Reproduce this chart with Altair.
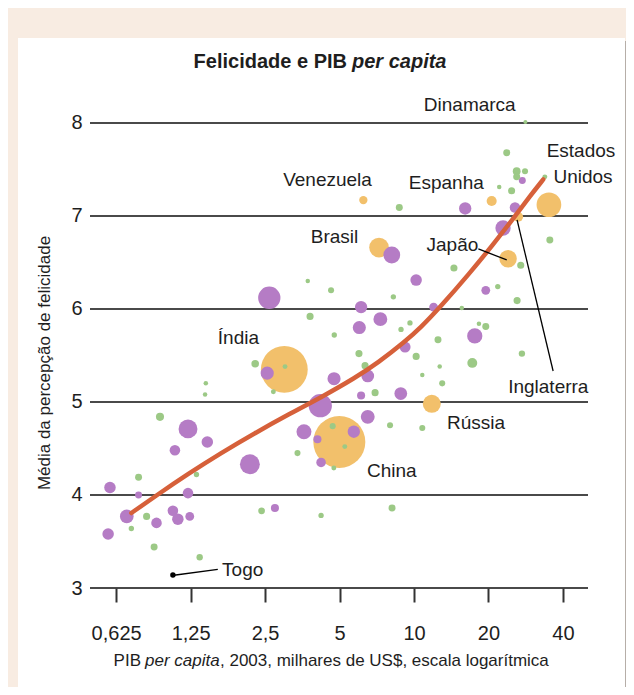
import altair as alt
import pandas as pd

# ---------------- data ----------------
X_TICKS = [0.625, 1.25, 2.5, 5, 10, 20, 40]
X_TICK_LABELS = ["0,625", "1,25", "2,5", "5", "10", "20", "40"]
Y_TICKS = [3, 4, 5, 6, 7, 8]

# orange: highlighted countries (GDP per capita, thousands US$; happiness; population, millions)
ORANGE_GDP = [2.99, 4.99, 35.1, 7.22, 24.0, 11.8, 6.24, 20.6, 26.4]
ORANGE_HAPPY = [5.35, 4.57, 7.12, 6.66, 6.54, 4.98, 7.17, 7.16, 6.99]
ORANGE_POP = [1080, 1330, 300, 190, 150, 160, 34, 50, 45]

PURPLE_GDP = [1.22, 1.46, 1.08, 2.17, 0.77, 0.59, 1.22, 0.69, 1.06, 1.11, 1.24, 0.91, 0.58, 2.74,
              2.55, 4.18, 4.75, 6.50, 9.2, 6.11, 8.84, 3.59, 6.50, 5.71, 4.07, 4.21, 2.60, 6.11,
              7.31, 6.01, 8.13, 10.2, 12.0, 16.1, 25.6, 22.9, 19.5, 17.6, 27.4]
PURPLE_HAPPY = [4.71, 4.57, 4.48, 4.33, 4.00, 4.08, 4.02, 3.77, 3.83, 3.74, 3.77, 3.70, 3.58, 3.86,
                5.31, 4.96, 5.25, 5.28, 5.59, 5.07, 5.09, 4.68, 4.84, 4.68, 4.60, 4.35, 6.12, 6.02,
                5.89, 5.80, 6.58, 6.31, 6.02, 7.08, 7.09, 6.87, 6.20, 5.71, 7.38]
PURPLE_POP = [175, 65, 55, 195, 24, 65, 55, 92, 55, 65, 38, 55, 65, 32,
              85, 265, 85, 80, 60, 32, 80, 110, 95, 75, 32, 45, 245, 75,
              95, 85, 140, 65, 38, 75, 55, 115, 38, 115, 24]

GREEN_GDP = [2.28, 1.44, 1.43, 0.94, 1.32, 0.77, 0.83, 0.72, 0.89, 1.36, 3.01, 2.70, 5.99, 6.34,
             10.2, 10.8, 6.96, 4.69, 5.25, 4.74, 3.38, 8.0, 10.8, 2.42, 4.21, 8.15, 27.3, 17.2,
             12.7, 13.0, 28.2, 23.7, 26.0, 26.0, 28.1, 22.1, 24.8, 33.8, 8.72, 35.4, 27.0, 14.5,
             21.8, 26.1, 15.6, 18.3, 19.5, 12.5, 3.72, 4.62, 8.25, 3.80, 4.76, 8.86, 9.63]
GREEN_HAPPY = [5.41, 5.20, 5.08, 4.84, 4.22, 4.19, 3.77, 3.64, 3.44, 3.33, 5.38, 5.11, 5.52, 5.39,
               5.49, 5.29, 5.10, 4.74, 4.52, 4.29, 4.45, 4.75, 4.72, 3.83, 3.78, 3.86, 5.52, 5.42,
               5.38, 5.20, 8.01, 7.68, 7.48, 7.42, 7.48, 7.31, 7.27, 7.42, 7.09, 6.74, 6.47, 6.44,
               6.24, 6.09, 6.01, 5.84, 5.81, 5.67, 6.30, 6.20, 6.13, 5.92, 5.72, 5.78, 5.85]
GREEN_POP = [28, 10, 10, 32, 14, 24, 25, 14, 24, 20, 12, 12, 25, 25,
             25, 10, 25, 18, 12, 12, 18, 18, 18, 22, 14, 24, 20, 48,
             10, 18, 8, 24, 30, 24, 18, 10, 25, 12, 24, 24, 25, 25,
             14, 25, 10, 10, 24, 24, 10, 18, 14, 25, 14, 14, 14]

TREND_GDP = [0.72, 0.896, 1.22, 1.66, 2.28, 3.11, 4.24, 5.78, 7.17, 9.2, 10.6, 12.7, 16.8, 20.9,
             25.2, 29.4, 33.3]
TREND_HAPPY = [3.806, 3.984, 4.226, 4.452, 4.667, 4.866, 5.054, 5.259, 5.423, 5.649, 5.795, 6.014,
               6.385, 6.694, 6.973, 7.211, 7.392]

TOGO_GDP = [1.06]
TOGO_HAPPY = [3.14]

LABEL_TEXT = ["Dinamarca", "Estados", "Unidos", "Venezuela", "Espanha", "Brasil", "Japão", "Índia",
              "Inglaterra", "Rússia", "China", "Togo"]
LABEL_GDP = [16.8, 47.3, 48.2, 4.47, 13.5, 4.77, 14.3, 1.95, 34.9, 17.8, 8.13, 2.03]
LABEL_HAPPY = [8.19, 7.70, 7.42, 7.39, 7.35, 6.77, 6.69, 5.69, 5.16, 4.77, 4.26, 3.19]

LEADER_GDP1 = [18.2, 26.1, 1.07]
LEADER_HAPPY1 = [6.645, 6.957, 3.137]
LEADER_GDP2 = [23.7, 36.5, 1.61]
LEADER_HAPPY2 = [6.527, 5.333, 3.20]

# ---------------- build ----------------
FONT = "Liberation Sans"
TXT = "#1e1e1e"
W, H = 498, 493

bubbles = pd.concat([
    pd.DataFrame({"gdp": ORANGE_GDP, "happy": ORANGE_HAPPY, "pop": ORANGE_POP, "grp": "o"}),
    pd.DataFrame({"gdp": PURPLE_GDP, "happy": PURPLE_HAPPY, "pop": PURPLE_POP, "grp": "p"}),
    pd.DataFrame({"gdp": GREEN_GDP, "happy": GREEN_HAPPY, "pop": GREEN_POP, "grp": "g"}),
], ignore_index=True)
bubbles["ord"] = range(len(bubbles))

xscale = alt.Scale(type="log", base=2, domain=[0.49, 50.5], nice=False)
yscale = alt.Scale(domain=[3, 8.3], nice=False, zero=False)

label_expr = " : ".join(
    f"datum.value == {v} ? '{t}'" for v, t in zip(X_TICKS, X_TICK_LABELS)
) + " : ''"

xaxis = alt.Axis(values=X_TICKS, labelExpr=label_expr, grid=False, domain=False, ticks=True,
                 tickSize=14, tickWidth=2, tickColor="#333333", labelFontSize=20, labelFont=FONT,
                 labelColor=TXT, labelPadding=21, title=None, zindex=1, labelFlush=False,
                 labelOverlap=False)
yaxis = alt.Axis(values=Y_TICKS, grid=False, domain=False, ticks=False, labelFontSize=20,
                 labelFont=FONT, labelColor=TXT, labelPadding=8, title=None, zindex=1, format="d")

X = lambda f: alt.X(f, scale=xscale, axis=xaxis)
Y = lambda f: alt.Y(f, scale=yscale, axis=yaxis)

one = pd.DataFrame({"a": [0]})

shadow = alt.Chart(one).mark_rect(color="#9a9490", opacity=0.7).encode(
    x=alt.value(-69), x2=alt.value(541), y=alt.value(-54), y2=alt.value(610))
card = alt.Chart(one).mark_rect(color="white").encode(
    x=alt.value(-72), x2=alt.value(535), y=alt.value(-57), y2=alt.value(605))

grid = alt.Chart(pd.DataFrame({"v": Y_TICKS})).mark_rule(color="#4a4a4a", strokeWidth=2).encode(
    y=Y("v:Q"), x=alt.value(0), x2=alt.value(W))

points = alt.Chart(bubbles).mark_circle(opacity=1).encode(
    x=X("gdp:Q"),
    y=Y("happy:Q"),
    size=alt.Size("pop:Q", scale=alt.Scale(domain=[0, 1300], range=[0, 2642]), legend=None),
    color=alt.Color("grp:N", scale=alt.Scale(domain=["o", "p", "g"],
                                             range=["#f2c06b", "#b57cc5", "#9cc986"]), legend=None),
    order=alt.Order("ord:Q"),
)

trend = alt.Chart(pd.DataFrame({"gdp": TREND_GDP, "happy": TREND_HAPPY})).mark_line(
    color="#d6603a", strokeWidth=4.5, interpolate="basis", strokeCap="round").encode(
    x=X("gdp:Q"), y=Y("happy:Q"))

togo = alt.Chart(pd.DataFrame({"gdp": TOGO_GDP, "happy": TOGO_HAPPY})).mark_circle(
    color="black", opacity=1, size=30).encode(x=X("gdp:Q"), y=Y("happy:Q"))

leaders = alt.Chart(pd.DataFrame({"x1": LEADER_GDP1, "y1": LEADER_HAPPY1,
                                  "x2": LEADER_GDP2, "y2": LEADER_HAPPY2})).mark_rule(
    color="black", strokeWidth=1.3).encode(
    x=X("x1:Q"), x2="x2:Q", y=Y("y1:Q"), y2="y2:Q")

labels = alt.Chart(pd.DataFrame({"t": LABEL_TEXT, "gdp": LABEL_GDP, "happy": LABEL_HAPPY})).mark_text(
    font=FONT, fontSize=19, color=TXT, align="center", baseline="middle").encode(
    x=X("gdp:Q"), y=Y("happy:Q"), text="t:N")

def txt(s, x, y, size, align="left", weight="normal", style="normal", angle=0):
    return alt.Chart(one).mark_text(font=FONT, fontSize=size, color=TXT, align=align,
                                    baseline="middle", fontWeight=weight, fontStyle=style,
                                    angle=angle).encode(
        x=alt.value(x), y=alt.value(y), text=alt.value(s))

title1 = txt("Felicidade e PIB", 257, -33, 20, align="right", weight="bold")
title2 = txt("per capita", 262, -33, 20, align="left", weight="bold", style="italic")
xt1 = txt("PIB", 51, 566, 17, align="right")
xt2 = txt("per capita", 55, 566, 17, align="left", style="italic")
xt3 = txt(", 2003, milhares de US$, escala logarítmica", 130, 566, 17, align="left")
yt = txt("Média da percepção de felicidade", -45, 268, 17, align="center", angle=270)

chart = alt.layer(shadow, card, grid, points, trend, togo, leaders, labels,
                  title1, title2, xt1, xt2, xt3, yt).properties(
    width=W, height=H,
    background="#f8ece2",
    padding={"left": 82, "top": 87, "right": 38, "bottom": 99},
    autosize=alt.AutoSizeParams(type="none"),
).configure_view(stroke=None)

chart.save("out.html", embed_options={"renderer": "svg", "actions": False})
